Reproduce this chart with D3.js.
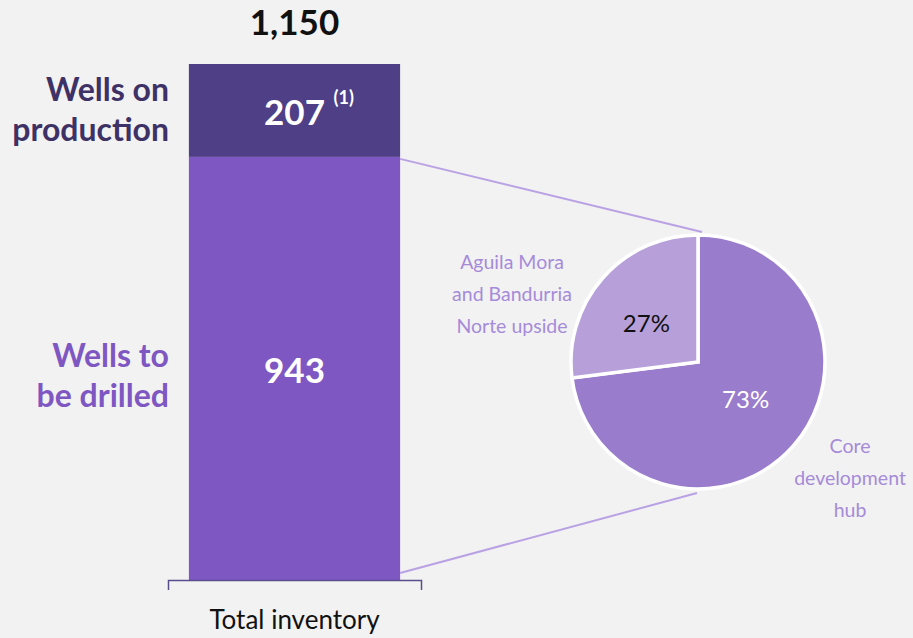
<!DOCTYPE html>
<html>
<head>
<meta charset="utf-8">
<script src="https://cdn.jsdelivr.net/npm/d3@7"></script>
<style>
  body { margin: 0; background: #f2f2f2; }
  svg { display: block; font-family: "Lato", "Open Sans", sans-serif; }
</style>
</head>
<body>
<svg id="chart"></svg>
<script>
const WIDTH = 913;
const HEIGHT = 638;

// bar data
const categories = ["Total inventory"];
const segmentNames = ["Wells to be drilled", "Wells on production"];
const segmentValues = [943, 207];
const totalLabel = "1,150";

// pie data
const pieNames = ["Core development hub", "Aguila Mora and Bandurria Norte upside"];
const pieValues = [73, 27];
const pieLabelLines = [["Core", "development", "hub"], ["Aguila Mora", "and Bandurria", "Norte upside"]];

const BAR_COLORS = ["#7e57c2", "#4f3f86"];
const SIDE_COLORS = ["#7e57c2", "#3d3166"];
const PIE_COLORS = ["#9a7ccd", "#b7a0da"];
const LINK_COLOR = "#b9a2e4";

const svg = d3.select("#chart").attr("width", WIDTH).attr("height", HEIGHT);

const total = d3.sum(segmentValues);

const x = d3.scaleBand().domain(categories).range([168, 421]).paddingInner(0.09).paddingOuter(0.09);
const y = d3.scaleLinear().domain([0, total]).range([580, 64]);

// stacked segments
let acc = 0;
const stacked = segmentValues.map((v, i) => {
  const s = { name: segmentNames[i], v0: acc, v1: acc + v, value: v, i };
  acc += v;
  return s;
});

const barG = svg.append("g");
barG.selectAll("rect")
  .data(stacked)
  .enter()
  .append("rect")
  .attr("x", x(categories[0]))
  .attr("width", x.bandwidth())
  .attr("y", (d) => y(d.v1))
  .attr("height", (d) => y(d.v0) - y(d.v1))
  .attr("fill", (d) => BAR_COLORS[d.i]);

const cx = x(categories[0]) + x.bandwidth() / 2;
const valOffset = [15, 15];

// values inside bar
barG.selectAll("text.val")
  .data(stacked)
  .enter()
  .append("text")
  .attr("class", "val")
  .attr("x", cx)
  .attr("y", (d) => (y(d.v0) + y(d.v1)) / 2 + valOffset[d.i])
  .attr("text-anchor", "middle")
  .attr("fill", "white")
  .attr("font-weight", "bold")
  .attr("font-size", 35)
  .text((d) => d.value);

// footnote marker on top segment
barG.append("text")
  .attr("x", cx + 39)
  .attr("y", (y(stacked[1].v0) + y(stacked[1].v1)) / 2 - 6)
  .attr("fill", "white")
  .attr("font-weight", "bold")
  .attr("font-size", 18)
  .text("(1)");

// total on top
svg.append("text")
  .attr("x", cx)
  .attr("y", y(total) - 29)
  .attr("text-anchor", "middle")
  .attr("font-weight", "bold")
  .attr("font-size", 35)
  .attr("fill", "#111")
  .text(totalLabel);

// side labels
const sideLines = [["Wells to", "be drilled"], ["Wells on", "production"]];
const sideOffset = [-1, -9];
stacked.forEach((d) => {
  const mid = (y(d.v0) + y(d.v1)) / 2;
  const t = svg.append("text")
    .attr("text-anchor", "end")
    .attr("font-weight", "bold")
    .attr("font-size", 32)
    .attr("fill", SIDE_COLORS[d.i]);
  sideLines[d.i].forEach((line, k) => {
    t.append("tspan")
      .attr("x", 169)
      .attr("y", mid + sideOffset[d.i] + k * 40)
      .text(line);
  });
});

// axis
const axis = svg.append("g")
  .attr("transform", `translate(0,${y(0)})`)
  .call(d3.axisBottom(x).tickSizeInner(0).tickSizeOuter(10).tickPadding(31));
axis.select(".domain").attr("stroke", "#5a4d8c").attr("stroke-width", 1.5);
axis.selectAll(".tick text")
  .attr("font-size", 26)
  .attr("fill", "#111")
  .attr("font-family", "Lato, sans-serif");

// pie
const pcx = 698, pcy = 362, R = 127;
const pie = d3.pie().sort(null).value((d) => d);
const arcs = pie(pieValues);
const arc = d3.arc().innerRadius(0).outerRadius(R);
const labelArc = d3.arc().innerRadius(R * 0.5).outerRadius(R * 0.5);

// connector lines
svg.append("line")
  .attr("x1", x(categories[0]) + x.bandwidth()).attr("y1", y(stacked[0].v1) + 2)
  .attr("x2", pcx + 4).attr("y2", pcy - R - 3)
  .attr("stroke", LINK_COLOR).attr("stroke-width", 2);
svg.append("line")
  .attr("x1", x(categories[0]) + x.bandwidth()).attr("y1", y(0) - 7)
  .attr("x2", pcx - 1).attr("y2", pcy + R + 4)
  .attr("stroke", LINK_COLOR).attr("stroke-width", 2);

const pieG = svg.append("g").attr("transform", `translate(${pcx},${pcy})`);
pieG.selectAll("path")
  .data(arcs)
  .enter()
  .append("path")
  .attr("d", arc)
  .attr("fill", (d, i) => PIE_COLORS[i])
  .attr("stroke", "white")
  .attr("stroke-width", 3.5);

const pctShift = [[0, 4], [-4, 12]];
pieG.selectAll("text.pct")
  .data(arcs)
  .enter()
  .append("text")
  .attr("class", "pct")
  .attr("transform", (d, i) => {
    const c = labelArc.centroid(d);
    return `translate(${c[0] + pctShift[i][0]},${c[1] + pctShift[i][1]})`;
  })
  .attr("text-anchor", "middle")
  .attr("font-size", 24)
  .attr("fill", (d, i) => (i === 0 ? "white" : "#111"))
  .text((d) => d.data + "%");

// outer pie labels
const outerPos = [[pcx + 152, pcy + 91], [pcx - 186, pcy - 93]];
pieLabelLines.forEach((lines, i) => {
  const t = svg.append("text")
    .attr("text-anchor", "middle")
    .attr("font-size", 19.5)
    .attr("fill", "#a68bd9");
  lines.forEach((line, k) => {
    t.append("tspan")
      .attr("x", outerPos[i][0])
      .attr("y", outerPos[i][1] + k * 32)
      .text(line);
  });
});
</script>
</body>
</html>
